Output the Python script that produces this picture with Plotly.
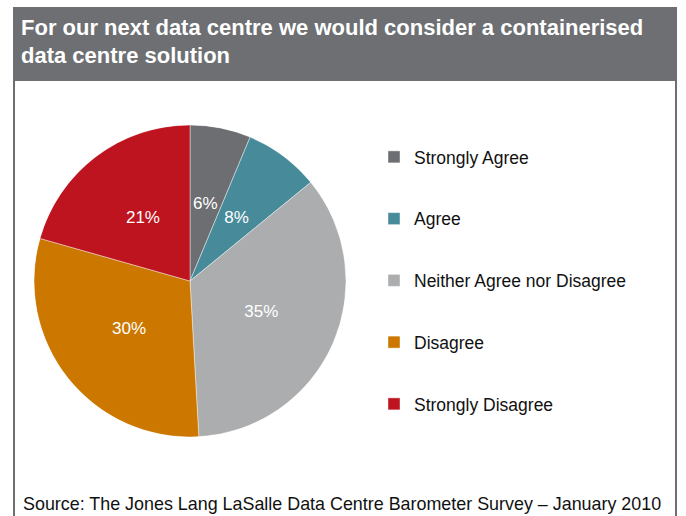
import plotly.graph_objects as go

# ---- data ----
categories = ["Strongly Agree", "Agree", "Neither Agree nor Disagree", "Disagree", "Strongly Disagree"]
values = [6.3, 7.8, 35.0, 30.3, 20.6]
colors = ["#6d6e72", "#478b9b", "#acadaf", "#cc7800", "#be141f"]
title_lines = ["For our next data centre we would consider a containerised", "data centre solution"]
source_text = "Source: The Jones Lang LaSalle Data Centre Barometer Survey \u2013 January 2010"

W, H = 686, 516
BAND = "#6d6f73"
FONT = "Liberation Sans, Arial, sans-serif"

def px(x):
    return x / W

def py(y):
    return 1 - y / H

total = sum(values)
widths = [v / total * 360 for v in values]
mids = []
acc = 0.0
for w in widths:
    mids.append(acc + w / 2)
    acc += w
pct_labels = [f"{round(v / total * 100)}%" for v in values]

fig = go.Figure()

# pie wedges as polar bars (one trace per category -> legend entries)
for i, (c, col) in enumerate(zip(categories, colors)):
    fig.add_trace(go.Barpolar(
        r=[1], theta=[mids[i]], width=[widths[i]], name=c,
        marker=dict(color=col, line=dict(color="rgba(255,255,255,0.7)", width=0.6)),
        legendgroup=f"g{i}", hovertemplate=f"{c}: {pct_labels[i]}<extra></extra>",
    ))

# percentage labels
fig.add_trace(go.Scatterpolar(
    r=[0.5] * len(values), theta=mids, text=pct_labels, mode="text",
    textfont=dict(family=FONT, size=17, color="white"),
    showlegend=False, hoverinfo="skip",
))

shapes = [
    dict(type="rect", xref="paper", yref="paper", x0=px(13), x1=px(677), y0=py(81), y1=py(7),
         fillcolor=BAND, line=dict(width=0), layer="below"),
    dict(type="line", xref="paper", yref="paper", x0=px(14), x1=px(14), y0=py(81), y1=0,
         line=dict(color=BAND, width=2)),
    dict(type="line", xref="paper", yref="paper", x0=px(676), x1=px(676), y0=py(81), y1=0,
         line=dict(color=BAND, width=2)),
]

annotations = []
for i, t in enumerate(title_lines):
    annotations.append(dict(
        text=f"<b>{t}</b>", xref="paper", yref="paper", x=px(19), y=py(28 + 28 * i),
        xanchor="left", yanchor="middle", showarrow=False,
        font=dict(family=FONT, size=22, color="white"),
    ))
annotations.append(dict(
    text=source_text, xref="paper", yref="paper", x=px(21), y=py(504),
    xanchor="left", yanchor="middle", showarrow=False,
    font=dict(family=FONT, size=17.9, color="#111111"),
))

fig.update_layout(
    width=W, height=H,
    margin=dict(l=0, r=0, t=0, b=0),
    paper_bgcolor="white",
    polar=dict(
        domain=dict(x=[px(34), px(346)], y=[py(437), py(125)]),
        bgcolor="rgba(0,0,0,0)",
        bargap=0,
        angularaxis=dict(rotation=90, direction="clockwise", visible=False, showgrid=False),
        radialaxis=dict(range=[0, 1], visible=False, showgrid=False),
    ),
    shapes=shapes,
    annotations=annotations,
    legend=dict(
        x=px(374), y=py(139), xanchor="left", yanchor="top",
        font=dict(family=FONT, size=17.5, color="#111111"),
        tracegroupgap=36, bgcolor="rgba(0,0,0,0)",
    ),
)

fig.write_html("out.html")
